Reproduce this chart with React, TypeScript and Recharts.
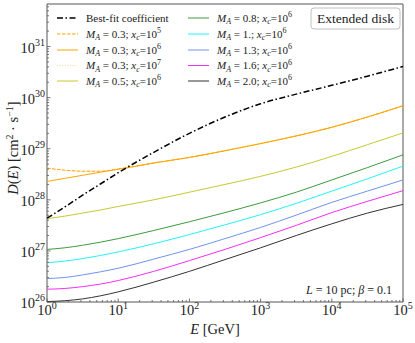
import React from 'react';
import { LineChart, Line, XAxis, YAxis, ReferenceArea } from 'recharts';

// energies in GeV (log-spaced grid)
const energy = [1, 1.78, 3.16, 5.62, 10, 31.6, 100, 316, 1000, 3160, 1e4, 3.16e4, 1e5];

// D(E) in cm^2 s^-1
const bestFit = [4.37e27, 7.24e27, 1.23e28, 2.04e28, 3.39e28, 8.51e28, 2.0e29, 4.17e29, 7.59e29, 1.17e30, 1.74e30, 2.63e30, 4.07e30];
const ma03xc5 = [4.17e28, 3.8e28, 3.63e28, 3.63e28, 3.98e28, 5.25e28, 6.76e28, 9.12e28, 1.26e29, 1.78e29, 2.63e29, 4.17e29, 6.92e29];
const ma03xc6 = [2.29e28, 2.63e28, 3.02e28, 3.47e28, 3.98e28, 5.25e28, 6.76e28, 9.12e28, 1.26e29, 1.78e29, 2.63e29, 4.17e29, 6.92e29];
const ma03xc7 = [4.17e28, 3.8e28, 3.63e28, 3.63e28, 3.98e28, 5.25e28, 6.76e28, 9.12e28, 1.26e29, 1.78e29, 2.63e29, 4.17e29, 6.92e29];
const ma05 = [4.27e27, 4.79e27, 5.5e27, 6.31e27, 7.41e27, 1.0e28, 1.41e28, 2.0e28, 2.88e28, 4.37e28, 7.08e28, 1.2e29, 2.04e29];
const ma08 = [1.07e27, 1.15e27, 1.29e27, 1.48e27, 1.74e27, 2.51e27, 3.72e27, 5.62e27, 8.71e27, 1.41e28, 2.45e28, 4.27e28, 7.59e28];
const ma10 = [5.89e26, 6.31e26, 7.08e26, 8.13e26, 9.55e26, 1.38e27, 2.09e27, 3.24e27, 5.13e27, 8.51e27, 1.48e28, 2.57e28, 4.57e28];
const ma13 = [2.88e26, 3.02e26, 3.39e26, 3.89e26, 4.57e26, 6.92e26, 1.07e27, 1.74e27, 2.88e27, 5.01e27, 8.91e27, 1.48e28, 2.45e28];
const ma16 = [1.78e26, 1.84e26, 2.0e26, 2.24e26, 2.63e26, 3.98e26, 6.46e26, 1.07e27, 1.82e27, 3.16e27, 5.62e27, 9.33e27, 1.51e28];
const ma20 = [1.02e26, 1.06e26, 1.15e26, 1.32e26, 1.58e26, 2.45e26, 3.98e26, 6.76e26, 1.15e27, 2.0e27, 3.39e27, 5.5e27, 8.13e27];

const xMajor = [1, 10, 100, 1e3, 1e4, 1e5];
const yMajor = [1e26, 1e27, 1e28, 1e29, 1e30, 1e31];
const Y_TOP = 6.8e31;

const FONT = '"Liberation Serif", "DejaVu Serif", serif';

// legend / series config: label parts are [MA, xc exponent]
const series = [
  { key: 'bestFit', values: bestFit, color: '#000000', width: 1.5, dash: '6 2.5 1.5 2.5', ma: null, xc: null },
  { key: 'ma03xc5', values: ma03xc5, color: '#ffa500', width: 1, dash: '3.5 1.5', ma: '0.3', xc: '5' },
  { key: 'ma03xc6', values: ma03xc6, color: '#ffa500', width: 1, dash: undefined, ma: '0.3', xc: '6' },
  { key: 'ma03xc7', values: ma03xc7, color: '#ffd9a0', width: 1, dash: '1 1.6', ma: '0.3', xc: '7' },
  { key: 'ma05', values: ma05, color: '#c8c832', width: 1, dash: undefined, ma: '0.5', xc: '6' },
  { key: 'ma08', values: ma08, color: '#3c9c3c', width: 1, dash: undefined, ma: '0.8', xc: '6' },
  { key: 'ma10', values: ma10, color: '#22f4f4', width: 1, dash: undefined, ma: '1.', xc: '6' },
  { key: 'ma13', values: ma13, color: '#6f95e8', width: 1, dash: undefined, ma: '1.3', xc: '6' },
  { key: 'ma16', values: ma16, color: '#f52ef5', width: 1, dash: undefined, ma: '1.6', xc: '6' },
  { key: 'ma20', values: ma20, color: '#333333', width: 1, dash: undefined, ma: '2.0', xc: '6' },
];

const rows = energy.map((E, i) => {
  const r: { [k: string]: number } = { E };
  series.forEach(s => { r[s.key] = s.values[i]; });
  return r;
});

// minor tick positions for the log axes
const minorOf = (majors: number[], top: number) => {
  const out: number[] = [];
  majors.forEach(m => {
    for (let k = 2; k <= 9; k++) if (m * k <= top) out.push(m * k);
  });
  return out;
};
const xTicks = [...xMajor, ...minorOf(xMajor.slice(0, -1), 1e5)];
const yTicks = [...yMajor, ...minorOf(yMajor, Y_TOP)];

const isMajor = (v: number) => {
  const e = Math.log10(v);
  return Math.abs(e - Math.round(e)) < 1e-6;
};

const XTick = (props: any) => {
  const { x, y, payload } = props;
  const v = payload.value;
  const major = isMajor(v);
  return (
    <g>
      <line x1={x} x2={x} y1={y} y2={y - (major ? 3.5 : 2)} stroke="#555" strokeWidth={0.8} />
      {major && (
        <text x={x} y={y + 13} textAnchor="middle" fontSize={14.5} fontFamily={FONT} fill="#222">
          10<tspan dy={-6} fontSize={10}>{Math.round(Math.log10(v))}</tspan>
        </text>
      )}
    </g>
  );
};

const YTick = (props: any) => {
  const { x, y, payload } = props;
  const v = payload.value;
  const major = isMajor(v);
  return (
    <g>
      <line x1={x} x2={x + (major ? 3.5 : 2)} y1={y} y2={y} stroke="#555" strokeWidth={0.8} />
      {major && (
        <text x={x - 2} y={y + 6} textAnchor="end" fontSize={14.5} fontFamily={FONT} fill="#222">
          10<tspan dy={-7} fontSize={10}>{Math.round(Math.log10(v))}</tspan>
        </text>
      )}
    </g>
  );
};

const LegendLabel = ({ x, y, s }: { x: number; y: number; s: any }) => {
  if (!s.ma) {
    return <text x={x} y={y} fontSize={11} fontFamily={FONT} fill="#222">Best-fit coefficient</text>;
  }
  return (
    <text x={x} y={y} fontSize={11} fontFamily={FONT} fill="#222">
      <tspan fontStyle="italic">M</tspan>
      <tspan dy={2.5} fontSize={8} fontStyle="italic">A</tspan>
      <tspan dy={-2.5}>{` = ${s.ma}; `}</tspan>
      <tspan fontStyle="italic">x</tspan>
      <tspan dy={2.5} fontSize={8} fontStyle="italic">c</tspan>
      <tspan dy={-2.5}>=10</tspan>
      <tspan dy={-4.5} fontSize={8}>{s.xc}</tspan>
    </text>
  );
};

const rowY = [18, 34, 50, 65.5, 81];

const Overlay = () => (
  <svg width={415} height={343} style={{ position: 'absolute', left: 0, top: 0, pointerEvents: 'none' }}>
    {series.map((s, i) => {
      const col = i < 5 ? 0 : 1;
      const r = i % 5;
      const lx = col === 0 ? 57 : 188;
      const ty = rowY[r];
      return (
        <g key={s.key}>
          <line x1={lx} x2={lx + 21} y1={ty} y2={ty} stroke={s.color} strokeWidth={s.width} strokeDasharray={s.dash} />
          <LegendLabel x={lx + 29} y={ty + 3.5} s={s} />
        </g>
      );
    })}
    <rect x={311} y={8} width={89} height={21} rx={3} fill="#fff" stroke="#b0b0b0" strokeWidth={0.8} />
    <text x={355.5} y={23} textAnchor="middle" fontSize={13.5} fontFamily={FONT} fill="#222">Extended disk</text>
    <text x={392} y={294} textAnchor="end" fontSize={12} fontFamily={FONT} fill="#222">
      <tspan fontStyle="italic">L</tspan> = 10 pc; <tspan fontStyle="italic">β</tspan> = 0.1
    </text>
    <text x={215} y={334} textAnchor="middle" fontSize={14.5} fontFamily={FONT} fill="#222">
      <tspan fontStyle="italic">E</tspan> [GeV]
    </text>
    <text transform="translate(18,148) rotate(-90)" textAnchor="middle" fontSize={14.5} fontFamily={FONT} fill="#222">
      <tspan fontStyle="italic">D</tspan>(<tspan fontStyle="italic">E</tspan>) [cm<tspan dy={-5} fontSize={10}>2</tspan>
      <tspan dy={5}> · s</tspan><tspan dy={-5} fontSize={10}>−1</tspan><tspan dy={5}>]</tspan>
    </text>
  </svg>
);

export default function App() {
  return (
    <div style={{ position: 'absolute', left: 0, top: 0, width: 415, height: 343, background: '#fff' }}>
      <LineChart width={415} height={343} data={rows} margin={{ top: 4, right: 12, bottom: 0, left: 0 }}>
        <XAxis
          dataKey="E"
          type="number"
          scale="log"
          domain={[1, 1e5]}
          ticks={xTicks}
          interval={0}
          tick={<XTick />}
          tickLine={false}
          axisLine={false}
          tickSize={0}
          tickMargin={0}
          height={41}
          allowDataOverflow
        />
        <YAxis
          type="number"
          scale="log"
          domain={[1e26, Y_TOP]}
          ticks={yTicks}
          interval={0}
          tick={<YTick />}
          tickLine={false}
          axisLine={false}
          tickSize={0}
          tickMargin={0}
          width={47}
          allowDataOverflow
        />
        {series.slice().reverse().map(s => (
          <Line
            key={s.key}
            dataKey={s.key}
            type="monotone"
            stroke={s.color}
            strokeWidth={s.width}
            strokeDasharray={s.dash}
            dot={false}
            activeDot={false}
            isAnimationActive={false}
          />
        ))}
        <ReferenceArea x1={1} x2={1e5} y1={1e26} y2={Y_TOP} fill="none" stroke="#555" strokeWidth={1} ifOverflow="visible" />
      </LineChart>
      <Overlay />
    </div>
  );
}
